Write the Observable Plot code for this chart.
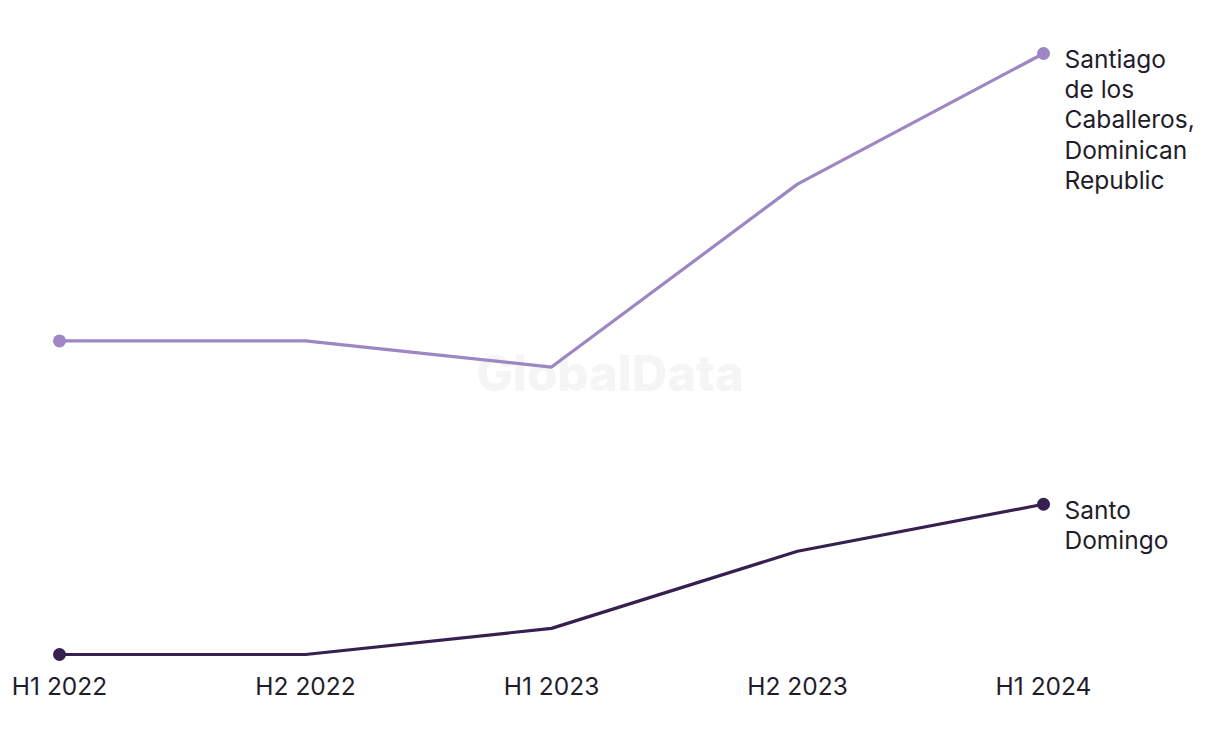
<!DOCTYPE html>
<html>
<head>
<meta charset="utf-8">
<script src="https://cdn.jsdelivr.net/npm/d3@7"></script>
<script src="https://cdn.jsdelivr.net/npm/@observablehq/plot@0.6"></script>
<style>
  html, body { margin: 0; padding: 0; background: #fff; }
  #chart { position: relative; width: 1220px; height: 744px; }
  #wm { position: absolute; left: 0; width: 1220px; top: 344px; text-align: center; font-family: Inter, "Open Sans", sans-serif; font-weight: 800; font-size: 49px; color: #f5f5f5; pointer-events: none; }
</style>
</head>
<body>
<div id="chart"><div id="wm">GlobalData</div></div>
<script>
const periods = ["H1 2022", "H2 2022", "H1 2023", "H2 2023", "H1 2024"];
const santiagoValues = [22, 22, 21, 28, 33];
const santoDomingoValues = [10, 10, 11, 13.95, 15.75];
const seriesNames = ["Santiago\nde los\nCaballeros,\nDominican\nRepublic", "Santo\nDomingo"];
const seriesColors = ["#9c86c3", "#35204f"];

const rows = [];
periods.forEach((p, i) => {
  rows.push({period: p, value: santiagoValues[i], series: seriesNames[0]});
  rows.push({period: p, value: santoDomingoValues[i], series: seriesNames[1]});
});
const last = rows.filter(d => d.period === periods[periods.length - 1]);
const ends = rows.filter(d => d.period === periods[0] || d.period === periods[periods.length - 1]);

const chart = Plot.plot({
  width: 1220,
  height: 744,
  marginLeft: 58,
  marginRight: 176,
  marginTop: 53,
  marginBottom: 90,
  style: {fontFamily: "Inter, 'Noto Sans', sans-serif", background: "transparent", color: "#1f1d2b"},
  x: {type: "point", domain: periods, padding: 0, label: null},
  y: {domain: [10, 33], axis: null},
  color: {domain: seriesNames, range: seriesColors},
  marks: [
    Plot.axisX({tickSize: 0, tickPadding: 23, fontSize: 24.5, label: null, fill: "#1f1d2b"}),
    Plot.line(rows, {x: "period", y: "value", z: "series", stroke: "series", strokeWidth: 3.2}),
    Plot.dot(ends, {x: "period", y: "value", fill: "series", r: 6.5}),
    Plot.text(last, {x: "period", y: "value", text: "series", textAnchor: "start", lineAnchor: "top", dx: 21, dy: -7, fontSize: 24.5, lineHeight: 1.235, fill: "#1f1d2b"})
  ]
});
chart.style.position = "absolute";
chart.style.left = "0";
chart.style.top = "0";
document.getElementById("chart").appendChild(chart);
</script>
</body>
</html>
